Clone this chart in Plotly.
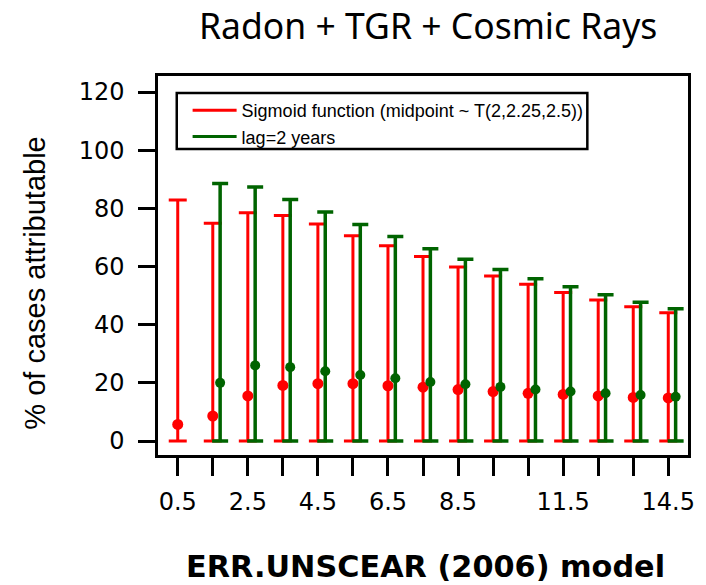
import plotly.graph_objects as go

# ---- data ----
positions = [0.5, 1.5, 2.5, 3.5, 4.5, 5.5, 6.5, 7.5, 8.5, 9.5, 10.5, 11.5, 12.5, 13.5, 14.5]
tick_text = ["0.5", "", "2.5", "", "4.5", "", "6.5", "", "8.5", "", "", "11.5", "", "", "14.5"]

red_mid = [5.7, 8.6, 15.5, 19.1, 19.7, 19.7, 19.0, 18.5, 17.7, 17.0, 16.4, 16.0, 15.5, 15.0, 14.8]
red_upper = [82.9, 74.9, 78.5, 77.5, 74.6, 70.6, 67.1, 63.4, 59.8, 56.7, 53.9, 51.1, 48.5, 46.2, 44.1]
red_lower = [0] * 15

green_positions = positions[1:]
green_mid = [20.0, 26.0, 25.4, 24.0, 22.7, 21.6, 20.3, 19.5, 18.6, 17.7, 17.0, 16.4, 15.8, 15.2]
green_upper = [88.5, 87.3, 83.0, 78.7, 74.4, 70.3, 66.1, 62.5, 59.0, 55.8, 53.0, 50.3, 47.7, 45.5]
green_lower = [0] * 14

red_name = "Sigmoid function (midpoint ~ T(2,2.25,2.5))"
green_name = "lag=2 years"

RED = "#FF0000"
GREEN = "#006400"
GREEN_SHIFT = 0.21

fig = go.Figure()

fig.add_trace(go.Scatter(
    x=positions, y=red_mid, mode="markers",
    marker=dict(color=RED, size=11),
    error_y=dict(type="data", symmetric=False,
                 array=[u - m for u, m in zip(red_upper, red_mid)],
                 arrayminus=[m - l for m, l in zip(red_mid, red_lower)],
                 color=RED, thickness=3, width=9),
    showlegend=False, hoverinfo="skip"))

fig.add_trace(go.Scatter(
    x=[p + GREEN_SHIFT for p in green_positions], y=green_mid, mode="markers",
    marker=dict(color=GREEN, size=10),
    error_y=dict(type="data", symmetric=False,
                 array=[u - m for u, m in zip(green_upper, green_mid)],
                 arrayminus=[m - l for m, l in zip(green_mid, green_lower)],
                 color=GREEN, thickness=3.5, width=8),
    showlegend=False, hoverinfo="skip"))

# legend entries
fig.add_trace(go.Scatter(x=[None], y=[None], mode="lines", name=red_name,
                         line=dict(color=RED, width=3)))
fig.add_trace(go.Scatter(x=[None], y=[None], mode="lines", name=green_name,
                         line=dict(color=GREEN, width=3)))

W, H = 706, 585
L, R, T, B = 158, 11, 76, 130
pw, ph = W - L - R, H - T - B

def px_x(px):
    return (px - L) / pw

def px_y(py):
    return (H - B - py) / ph

fig.update_layout(
    width=W, height=H,
    margin=dict(l=L, r=R, t=T, b=B),
    paper_bgcolor="white", plot_bgcolor="white",
    showlegend=True,
    legend=dict(x=px_x(188), y=px_y(92), xanchor="left", yanchor="top",
                bgcolor="rgba(0,0,0,0)", borderwidth=0, itemwidth=44,
                font=dict(family="Liberation Sans, Arial", size=18, color="black")),
    shapes=[dict(type="rect", xref="paper", yref="paper",
                 x0=px_x(177), x1=px_x(593), y0=px_y(93), y1=px_y(149),
                 line=dict(color="black", width=2.5), fillcolor="rgba(0,0,0,0)",
                 layer="above")],
    xaxis=dict(range=[-0.0634, 15.063], tickmode="array", tickvals=positions,
               ticktext=tick_text, ticks="outside", ticklen=18, tickwidth=2.5,
               tickcolor="black", showgrid=False, zeroline=False,
               showline=True, mirror=True, linewidth=2.5, linecolor="black",
               ticklabelstandoff=5,
               tickfont=dict(family="DejaVu Sans", size=24, color="black")),
    yaxis=dict(range=[-4.81, 125.5], tickmode="array",
               tickvals=[0, 20, 40, 60, 80, 100, 120],
               ticks="outside", ticklen=17, tickwidth=2.5, tickcolor="black",
               showgrid=False, zeroline=False,
               showline=True, mirror=True, linewidth=2.5, linecolor="black",
               ticklabelstandoff=9,
               tickfont=dict(family="DejaVu Sans", size=24, color="black")),
    annotations=[
        dict(text="Radon + TGR + Cosmic Rays", xref="paper", yref="paper",
             x=px_x(431.5), y=px_y(25), xanchor="center", yanchor="middle",
             showarrow=False,
             font=dict(family="Noto Sans", size=35.5, color="black")),
        dict(text="<b>ERR.UNSCEAR (2006) model</b>", xref="paper", yref="paper",
             x=px_x(429), y=px_y(566), xanchor="center", yanchor="middle",
             showarrow=False,
             font=dict(family="DejaVu Sans", size=30.3, color="black")),
        dict(text="% of cases attributable", xref="paper", yref="paper",
             x=px_x(32.5), y=px_y(283.5), xanchor="center", yanchor="middle",
             textangle=-90, showarrow=False,
             font=dict(family="Liberation Sans, Arial", size=29, color="black")),
    ],
)

# remove the default page margin so the figure fills the window exactly
fig.write_html("out.html",
               config={"displayModeBar": False},
               post_script="document.body.style.margin='0px';document.body.style.overflow='hidden';")
